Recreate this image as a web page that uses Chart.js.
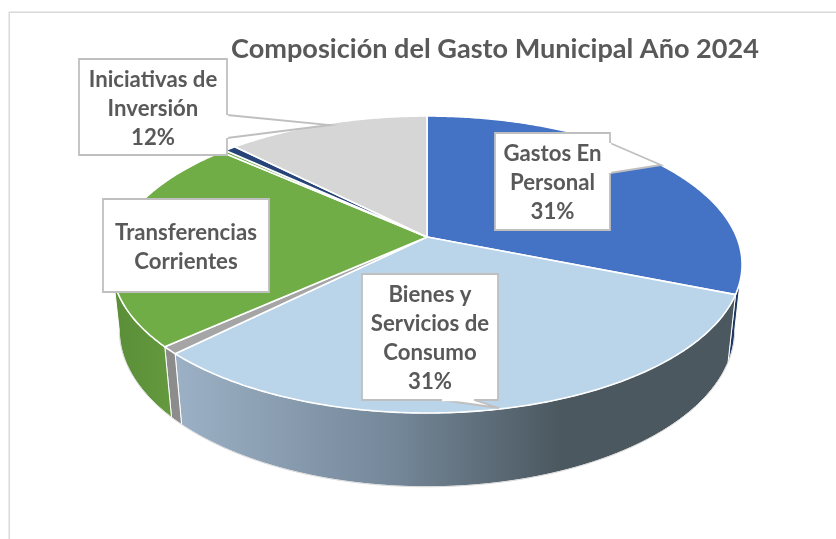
<!DOCTYPE html>
<html>
<head>
<meta charset="utf-8">
<title>Gasto Municipal 2024</title>
<script src="https://cdn.jsdelivr.net/npm/chart.js@4"></script>
<style>
    body { margin: 0; background: #fff; }
    canvas { display: block; }
</style>
</head>
<body>
<canvas id="gastoChart" width="836" height="539"></canvas>
<script>
// Datos
const categorias = [
    'Gastos En Personal',
    'Bienes y Servicios de Consumo',
    'Otros Gastos',
    'Transferencias Corrientes',
    'Integros al Fisco',
    'Adquisicion de Activos',
    'Iniciativas de Inversión'
];
const valores = [31.1, 31.4, 0.8, 23.3, 0.3, 0.7, 12.4];
const titulo = 'Composición del Gasto Municipal Año 2024';

// Estilos
const coloresCara = ['#4472c4', '#bad4ea', '#a5a5a5', '#70ad47', '#70ad47', '#264478', '#d6d6d6'];
const colorTexto = '#595959';
const fuente = 'bold 22.2px Lato';

// Perspectiva del disco: centro, radios y fuga
const cx = 427, cy = 237;
const radioX = 309.6, radioY = 143.4, fuga = 0.1852;
const grosor = 0.023, nadirY = 3100;

// Solo se ve la pared entre estos dos angulos (silueta del disco)
const paredDesde = Math.acos(-fuga);
const paredHasta = 2 * Math.PI - paredDesde;

// Cajas de las etiquetas
const etiquetas = [
    { indice: 6, lineas: ['Iniciativas de', 'Inversión'], pct: true, caja: [79, 59, 148, 96],
      punta: [[227, 115], [330, 125], [227, 138]] },
    { indice: 3, lineas: ['Transferencias', 'Corrientes'], pct: false, caja: [103, 199, 166, 93], punta: null },
    { indice: 0, lineas: ['Gastos En', 'Personal'], pct: true, caja: [495, 133, 115, 97],
      punta: [[610, 143], [661, 165], [610, 173]] },
    { indice: 1, lineas: ['Bienes y', 'Servicios de', 'Consumo'], pct: true, caja: [362, 274, 136, 126],
      punta: [[442, 400], [499, 408], [474, 400]] }
];

// Punto del borde superior para un angulo (0 = arriba, sentido horario)
function bordeArriba(t) {
    const u = Math.sin(t), v = -Math.cos(t), w = 1 - fuga * v;
    return { x: cx + radioX * u / w, y: cy + radioY * v / w, w: w };
}

// Mismo punto en el borde inferior, camino del punto de fuga vertical
function bordeAbajo(t) {
    const p = bordeArriba(t);
    const m = grosor / (p.w + grosor);
    return { x: p.x + m * (cx - p.x), y: p.y + m * (nadirY - p.y) };
}

function trazarBorde(ctx, fn, a, b) {
    const pasos = Math.max(2, Math.ceil(Math.abs(b - a) / 0.01));
    for (let i = 0; i <= pasos; i++) {
        const p = fn(a + (b - a) * i / pasos);
        ctx.lineTo(p.x, p.y);
    }
}

function colorPared(ctx, i) {
    if (i === 1) {
        const g = ctx.createLinearGradient(178, 0, 560, 0);
        g.addColorStop(0, '#9cb0c5');
        g.addColorStop(0.55, '#76899b');
        g.addColorStop(1, '#4b5860');
        return g;
    }
    if (i === 3) {
        const g = ctx.createLinearGradient(116, 0, 170, 0);
        g.addColorStop(0, '#5a8e38');
        g.addColorStop(1, '#64993e');
        return g;
    }
    if (i === 2) return '#8c8c8c';
    if (i === 0) return '#1f3864';
    return coloresCara[i];
}

const disco3d = {
    id: 'disco3d',
    afterLayout(chart) {
        // titulo centrado sobre x = 495
        chart.titleBlock.left = 154;
        chart.titleBlock.right = 836;
    },
    beforeDraw(chart) {
        const ctx = chart.ctx;
        ctx.save();
        ctx.strokeStyle = '#d9d9d9';
        ctx.lineWidth = 1.5;
        ctx.strokeRect(9.25, 12.25, 1000, 1000);
        ctx.restore();
    },
    beforeDatasetsDraw(chart) {
        const ctx = chart.ctx;
        const arcos = chart.getDatasetMeta(0).data;
        ctx.save();
        ctx.lineJoin = 'round';

        // Paredes
        arcos.forEach((arco, i) => {
            const a = Math.max(arco.startAngle + Math.PI / 2, paredDesde);
            const b = Math.min(arco.endAngle + Math.PI / 2, paredHasta);
            if (b <= a) return;
            ctx.beginPath();
            trazarBorde(ctx, bordeArriba, a, b);
            trazarBorde(ctx, bordeAbajo, b, a);
            ctx.closePath();
            ctx.fillStyle = colorPared(ctx, i);
            ctx.fill();
            ctx.strokeStyle = '#ffffff';
            ctx.lineWidth = 1;
            ctx.stroke();
        });

        // Linea fina exterior del disco
        ctx.beginPath();
        trazarBorde(ctx, bordeAbajo, paredDesde, paredHasta);
        ctx.strokeStyle = '#d0d0d0';
        ctx.lineWidth = 0.8;
        ctx.stroke();

        // Cara superior
        arcos.forEach((arco, i) => {
            const a = arco.startAngle + Math.PI / 2, b = arco.endAngle + Math.PI / 2;
            ctx.beginPath();
            ctx.moveTo(cx, cy);
            trazarBorde(ctx, bordeArriba, a, b);
            ctx.closePath();
            ctx.fillStyle = arco.options.backgroundColor;
            ctx.fill();
            ctx.strokeStyle = '#ffffff';
            ctx.lineWidth = 1.6;
            ctx.stroke();
        });
        ctx.restore();
        return false;
    },
    afterDraw(chart) {
        const ctx = chart.ctx;
        const datos = chart.data.datasets[0].data;
        ctx.save();
        etiquetas.forEach(e => {
            const [x, y, ancho, alto] = e.caja;
            ctx.fillStyle = '#ffffff';
            ctx.strokeStyle = '#bfbfbf';
            ctx.lineWidth = 1.8;
            ctx.lineJoin = 'miter';

            // Contorno de la caja, con la punta encima
            ctx.beginPath();
            ctx.rect(x, y, ancho, alto);
            ctx.fill();
            ctx.stroke();
            if (e.punta) {
                ctx.beginPath();
                ctx.moveTo(e.punta[0][0], e.punta[0][1]);
                ctx.lineTo(e.punta[1][0], e.punta[1][1]);
                ctx.lineTo(e.punta[2][0], e.punta[2][1]);
                ctx.closePath();
                ctx.fill();
                ctx.beginPath();
                ctx.moveTo(e.punta[0][0], e.punta[0][1]);
                ctx.lineTo(e.punta[1][0], e.punta[1][1]);
                ctx.lineTo(e.punta[2][0], e.punta[2][1]);
                ctx.stroke();
                // tapa el trozo de caja bajo la punta
                ctx.beginPath();
                ctx.moveTo(e.punta[0][0], e.punta[0][1]);
                ctx.lineTo(e.punta[2][0], e.punta[2][1]);
                ctx.strokeStyle = '#ffffff';
                ctx.lineWidth = 2.4;
                ctx.stroke();
            }

            const lineas = e.lineas.slice();
            if (e.pct) lineas.push(Math.round(datos[e.indice]) + '%');
            ctx.font = fuente;
            ctx.fillStyle = colorTexto;
            ctx.textAlign = 'center';
            ctx.textBaseline = 'middle';
            const inicio = y + alto / 2 - (lineas.length - 1) * 29 / 2 + 1.5;
            lineas.forEach((l, n) => ctx.fillText(l, x + ancho / 2, inicio + n * 29));
        });
        ctx.restore();
    }
};

new Chart(document.getElementById('gastoChart'), {
    type: 'pie',
    data: {
        labels: categorias,
        datasets: [{
            data: valores,
            backgroundColor: coloresCara,
            borderColor: '#ffffff'
        }]
    },
    options: {
        responsive: false,
        animation: false,
        plugins: {
            legend: { display: false },
            tooltip: { enabled: false },
            title: {
                display: true,
                text: titulo,
                color: colorTexto,
                font: { family: 'Lato', size: 27.1, weight: 'bold', lineHeight: 1.2 },
                padding: { top: 33, bottom: 0 }
            }
        }
    },
    plugins: [disco3d]
});
</script>
</body>
</html>
